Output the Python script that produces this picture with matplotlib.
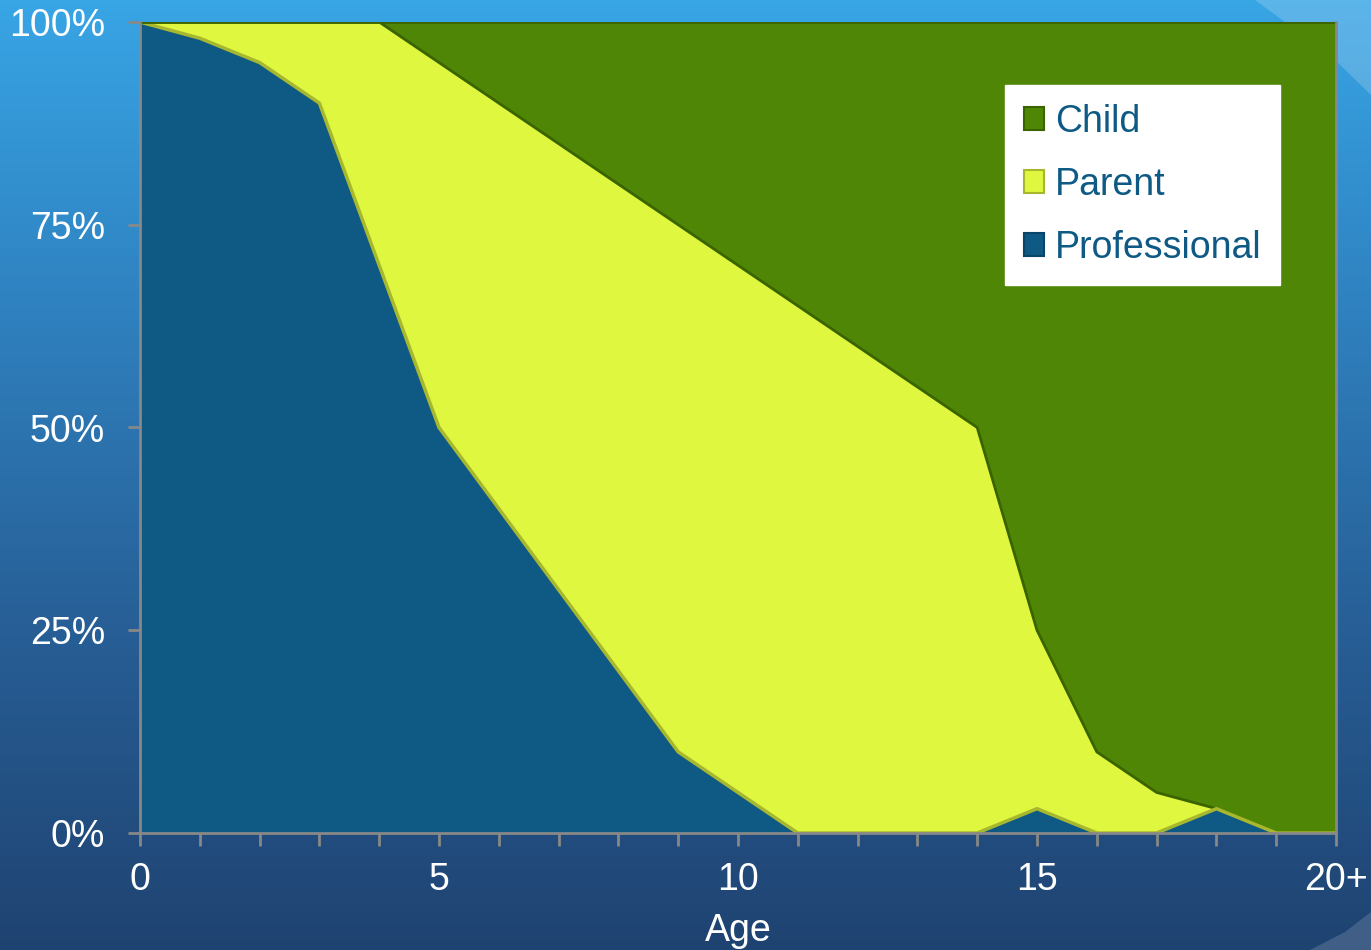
import numpy as np
import matplotlib
matplotlib.use("Agg")
import matplotlib.pyplot as plt
from matplotlib.patches import Patch, Polygon
from matplotlib.colors import LinearSegmentedColormap

# ---- data ----
ages = list(range(21))
tick_positions = [0, 5, 10, 15, 20]
tick_labels = ["0", "5", "10", "15", "20+"]
professional = [100, 98, 95, 90, 70, 50, 40, 30, 20, 10, 5, 0, 0, 0, 0, 3, 0, 0, 3, 0, 0]
parent = [0, 2, 5, 10, 30, 45, 50, 55, 60, 65, 65, 65, 60, 55, 50, 22, 10, 5, 0, 0, 0]
child = [0, 0, 0, 0, 0, 5, 10, 15, 20, 25, 30, 35, 40, 45, 50, 75, 90, 95, 97, 100, 100]
y_ticks = [0, 25, 50, 75, 100]
y_labels = ["0%", "25%", "50%", "75%", "100%"]
series_names = ["Professional", "Parent", "Child"]

# ---- styling ----
plt.rcParams['font.family'] = ['Liberation Sans', 'DejaVu Sans']
W, H = 1371, 950
fig = plt.figure(figsize=(W / 100, H / 100), dpi=100)

# background gradient
bg = fig.add_axes([0, 0, 1, 1], zorder=0)
cmap = LinearSegmentedColormap.from_list("bg", ["#38a5e5", "#2f80be", "#275e95", "#1f4371"])
grad = np.linspace(0, 1, 256).reshape(-1, 1)
bg.imshow(grad, aspect="auto", cmap=cmap, extent=[0, 1, 0, 1], origin="upper")
bg.add_patch(Polygon([[1255 / W, 1], [1, 1], [1, 1 - 95 / H], [1330 / W, 1 - 55 / H]],
                     closed=True, color="white", alpha=0.18, lw=0))
bg.add_patch(Polygon([[1310 / W, 0], [1, 0], [1, 38 / H], [1345 / W, 18 / H]],
                     closed=True, color="white", alpha=0.15, lw=0))
bg.set_xlim(0, 1); bg.set_ylim(0, 1)
bg.axis("off")

left, right, top, bottom = 140, 1336, 22, 833
ax = fig.add_axes([left / W, (H - bottom) / H, (right - left) / W, (bottom - top) / H], zorder=1)
ax.patch.set_alpha(0)

c_prof, c_par, c_child = "#0e5a84", "#dff73e", "#508606"
ax.stackplot(ages, professional, parent, child, colors=[c_prof, c_par, c_child], lw=0)
prof = np.array(professional)
toppc = prof + np.array(parent)
ax.plot(ages, toppc, color="#3a6400", lw=2)
ax.plot(ages, prof, color="#a8b82e", lw=2.5)
ax.plot(ages, [100] * len(ages), color="#3a6400", lw=2)

ax.set_xlim(0, 20)
ax.set_ylim(0, 100)
ax.set_xticks(ages)
ax.set_xticklabels([tick_labels[tick_positions.index(a)] if a in tick_positions else "" for a in ages])
ax.set_yticks(y_ticks)
ax.set_yticklabels(y_labels)
ax.tick_params(axis="both", colors="#888888", labelcolor="white", labelsize=27,
               length=9, width=2, direction="out")
ax.tick_params(axis="x", pad=12)
ax.tick_params(axis="y", pad=16)
for s in ["left", "bottom", "right"]:
    ax.spines[s].set_color("#888888")
    ax.spines[s].set_linewidth(2)
ax.spines["top"].set_visible(False)
ax.set_xlabel("Age", color="white", fontsize=27, labelpad=11)

handles = [Patch(facecolor=c_child, edgecolor="#3a6400", lw=1.5, label="Child"),
           Patch(facecolor=c_par, edgecolor="#a8b82e", lw=1.5, label="Parent"),
           Patch(facecolor=c_prof, edgecolor="#0a4468", lw=1.5, label="Professional")]
leg = fig.legend(handles=handles, loc="upper left", bbox_to_anchor=(1005 / W, 1 - 85 / H),
                 fontsize=27, frameon=True, fancybox=False, framealpha=1,
                 edgecolor="white", facecolor="white", handlelength=0.55, handleheight=0.55,
                 handletextpad=0.28, labelspacing=0.72, borderpad=0.5, borderaxespad=0)
for t in leg.get_texts():
    t.set_color("#0e5a84")
leg.set_zorder(5)

fig.savefig("out.png", dpi=100)
